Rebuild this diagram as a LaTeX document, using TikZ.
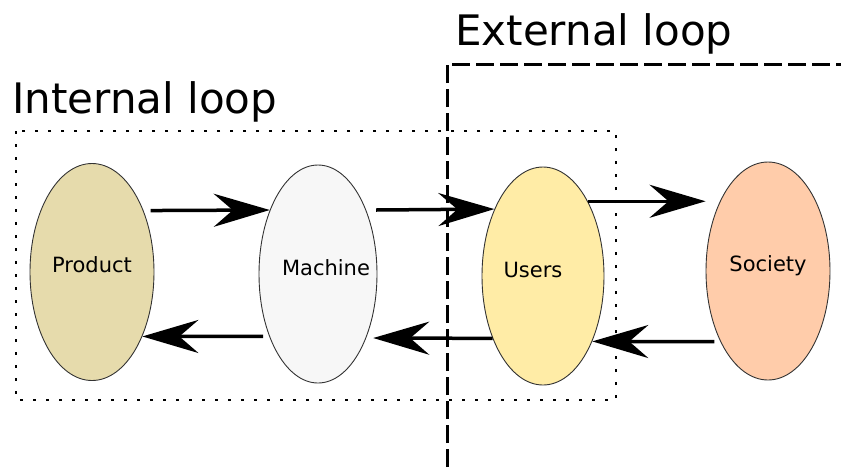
\documentclass[tikz,border=0pt]{standalone}
\usepackage{fontspec}
\setmainfont{DejaVu Sans}
\usetikzlibrary{shapes.geometric,arrows.meta}
\definecolor{prodc}{RGB}{230,219,172}
\definecolor{machc}{RGB}{247,247,247}
\definecolor{userc}{RGB}{255,236,166}
\definecolor{socc}{RGB}{255,204,170}
\tikzset{
  blob/.style={ellipse, draw=black!80, line width=0.9pt, inner sep=0pt,
    minimum width=124pt, minimum height=217pt},
  blobtext/.style={inner sep=0pt, font=\fontsize{21}{24}\selectfont},
  flow/.style={line width=3.5pt, -{Stealth[length=56pt, width=33pt, inset=19pt]}},
  title/.style={font=\fontsize{42}{48}\selectfont, inner sep=0pt, anchor=base west},
  innerbox/.style={line width=2.6pt, dash pattern=on 2.6pt off 10.4pt},
  outerbox/.style={line width=3pt, dash pattern=on 18pt off 6pt}
}
\begin{document}
\begin{tikzpicture}[x=1pt,y=-1pt]
\useasboundingbox (0,0) rectangle (841,467);
\draw[innerbox] (16,131) rectangle (616,400);
\draw[outerbox] (447,467) -- (447,64) -- (841,64);
\node[title] (tin) at (12,113) {Internal loop};
\node[title] (tex) at (455,45) {External loop};
\node[blob, fill=prodc] (p) at (92,272) {};
\node[blob, fill=machc, minimum width=118pt, minimum height=218pt] (m) at (318,274) {};
\node[blob, fill=userc, minimum width=122pt, minimum height=218pt] (u) at (543,276) {};
\node[blob, fill=socc, minimum width=124pt, minimum height=218pt] (s) at (768,271) {};
\node[blobtext] (pt) at ([yshift=7pt]p.center) {Product};
\node[blobtext] (mt) at ([xshift=8pt,yshift=6pt]m.center) {Machine};
\node[blobtext] (ut) at ([xshift=-10pt,yshift=6pt]u.center) {Users};
\node[blobtext] (st) at ([yshift=5pt]s.center) {Society};
\draw[flow] ([xshift=7pt]p.50) -- (m.127);
\draw[flow] ([xshift=10pt]m.53) -- (u.126);
\draw[flow] (u.59) -- (u.59 -| s.west);
\draw[flow] ([xshift=-6pt]m.232) -- (p.308);
\draw[flow] (u.231) -- ([xshift=7pt]m.307);
\draw[flow] ([xshift=-6pt]s.236) -- (u.307);
\end{tikzpicture}
\end{document}
